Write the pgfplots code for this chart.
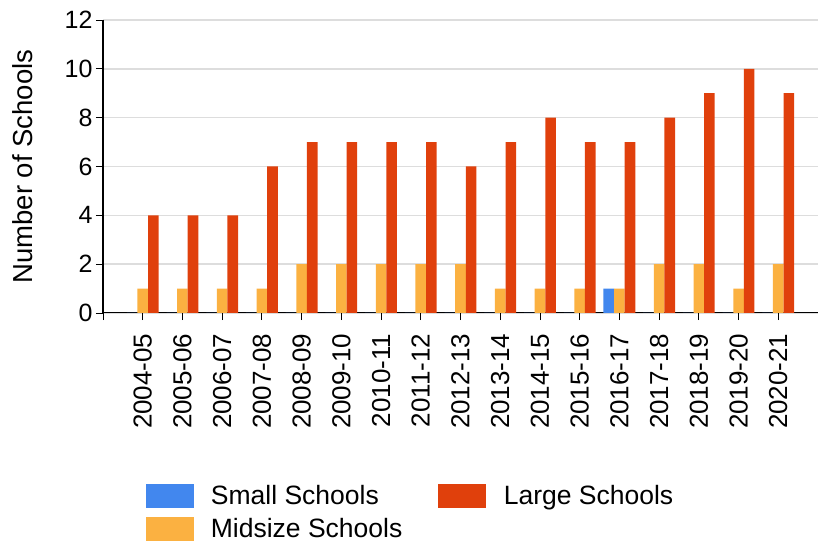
\documentclass[border=0pt]{standalone}
\usepackage{pgfplots}
\pgfplotsset{compat=1.18}
\usetikzlibrary{calc}
\usepackage{fontspec}
\setmainfont{Liberation Sans}
\definecolor{smallc}{HTML}{4287EE}
\definecolor{midc}{HTML}{FBB141}
\definecolor{largec}{HTML}{E0400C}
\definecolor{gridc}{HTML}{DDDDDD}
\begin{document}
\begin{tikzpicture}
\begin{axis}[
    scale only axis,
    width=715pt, height=293pt,
    ybar=0pt, bar width=10.6pt,
    xmin=0, xmax=18,
    ymin=0, ymax=12,
    ytick={0,2,...,12},
    xtick={0,...,17},
    xticklabels={,2004-05,2005-06,2006-07,2007-08,2008-09,2009-10,2010-11,2011-12,2012-13,2013-14,2014-15,2015-16,2016-17,2017-18,2018-19,2019-20,2020-21},
    x tick label style={rotate=90, anchor=east, font=\fontsize{26}{28}\selectfont},
    xticklabel shift=10pt,
    y tick label style={font=\fontsize{25}{27}\selectfont},
    /pgf/number format/assume math mode=true,
    tick align=outside, major tick length=7pt,
    tick style={black, line width=0.8pt},
    axis x line*=bottom, axis y line*=left,
    axis line style={black, line width=1.8pt},
    x axis line style={line width=1pt},
    ymajorgrids, grid style={gridc, line width=1.6pt},
    ylabel={Number of Schools},
    ylabel style={font=\fontsize{27.5}{30}\selectfont, at={(axis description cs:-0.098,0.5)}, anchor=base},
    legend style={draw=none, at={(axis description cs:0.055,-0.575)}, anchor=north west,
        font=\fontsize{26.5}{28}\selectfont,
        /tikz/every odd column/.append style={column sep=16pt},
        /tikz/every even column/.append style={column sep=34pt},
        row sep=8pt},
    legend columns=2,
    legend cell align=left,
]
\coordinate (bl) at (rel axis cs:0,0);
\coordinate (tr) at (rel axis cs:1,1);
\addplot[fill=smallc, draw=none, bar shift=-10.6pt, forget plot] coordinates {
(1,0) (2,0) (3,0) (4,0) (5,0) (6,0) (7,0) (8,0) (9,0) (10,0) (11,0) (12,0) (13,1) (14,0) (15,0) (16,0) (17,0)};
\addplot[fill=midc, draw=none, bar shift=0pt, forget plot] coordinates {
(1,1) (2,1) (3,1) (4,1) (5,2) (6,2) (7,2) (8,2) (9,2) (10,1) (11,1) (12,1) (13,1) (14,2) (15,2) (16,1) (17,2)};
\addplot[fill=largec, draw=none, bar shift=10.6pt, forget plot] coordinates {
(1,4) (2,4) (3,4) (4,6) (5,7) (6,7) (7,7) (8,7) (9,6) (10,7) (11,8) (12,7) (13,7) (14,8) (15,9) (16,10) (17,9)};
\addlegendimage{legend image code/.code={\fill[smallc] (0pt,-11.5pt) rectangle (47pt,11.5pt);}}
\addlegendentry{Small Schools}
\addlegendimage{legend image code/.code={\fill[largec] (0pt,-11.5pt) rectangle (47pt,11.5pt);}}
\addlegendentry{Large Schools}
\addlegendimage{legend image code/.code={\fill[midc] (0pt,-11.5pt) rectangle (47pt,11.5pt);}}
\addlegendentry{Midsize Schools}
\end{axis}
\pgfresetboundingbox
\path[use as bounding box] ($(bl)+(-103pt,-229pt)$) rectangle ($(tr)+(0pt,20pt)$);
\end{tikzpicture}
\end{document}
